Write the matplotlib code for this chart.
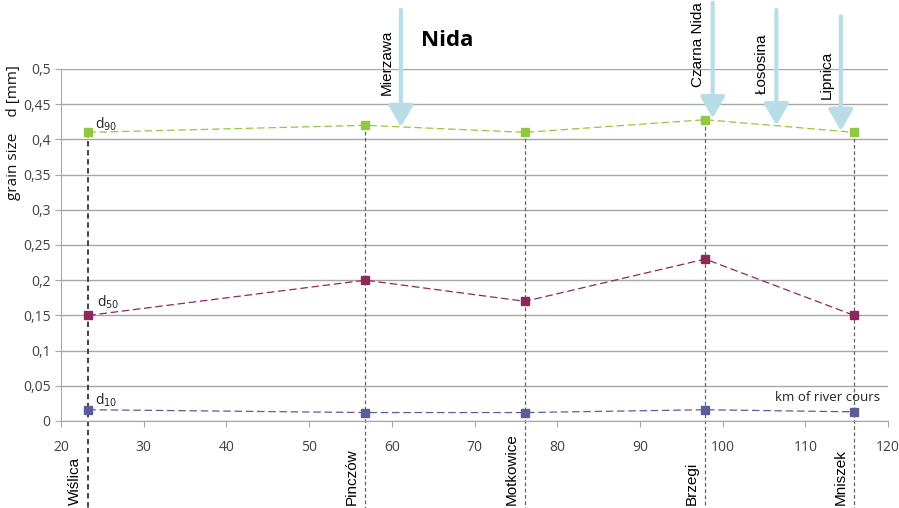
import matplotlib
matplotlib.use("Agg")
import matplotlib.pyplot as plt

# Data
stations = ["Wiślica", "Pinczów", "Motkowice", "Brzegi", "Mniszek"]
km = [23.3, 56.8, 76.1, 97.9, 115.9]
d90 = [0.41, 0.42, 0.41, 0.428, 0.41]
d50 = [0.15, 0.20, 0.17, 0.23, 0.15]
d10 = [0.016, 0.012, 0.012, 0.016, 0.013]

tributaries = ["Mierzawa", "Czarna Nida", "Łososina", "Lipnica"]
trib_km = [61.1, 98.8, 106.5, 114.3]
trib_tip = [0.4176, 0.430, 0.420, 0.412]
trib_top = [0.584, 0.594, 0.584, 0.575]

xticks = [20, 30, 40, 50, 60, 70, 80, 90, 100, 110, 120]
yticks = [0, 0.05, 0.1, 0.15, 0.2, 0.25, 0.3, 0.35, 0.4, 0.45, 0.5]

fig = plt.figure(figsize=(8.99, 5.08), dpi=100)
ax = fig.add_axes([61/899, 87/508, 827/899, 352/508])
ax.set_xlim(20, 120)
ax.set_ylim(0, 0.5)

ax.set_yticks(yticks)
ax.set_yticklabels([("%g" % v).replace(".", ",") for v in yticks], fontsize=10, color="#404040", family="Open Sans")
ax.set_xticks(xticks)
ax.set_xticklabels([str(v) for v in xticks], fontsize=10, color="#404040", family="Open Sans")
ax.yaxis.grid(True, color="#a6a6a6", lw=1)
ax.set_axisbelow(True)
for s in ["top", "right"]:
    ax.spines[s].set_visible(False)
for s in ["left", "bottom"]:
    ax.spines[s].set_color("#a6a6a6")
ax.tick_params(axis="both", colors="#a6a6a6", length=4, labelcolor="#404040")
ax.tick_params(axis="x", pad=10)

# vertical dashed lines at stations
ybot = -0.125
for i, (x, y) in enumerate(zip(km, d90)):
    col = "#333333" if i == 0 else "#666666"
    lw = 1.3 if i == 0 else 0.9
    ax.plot([x, x], [y, ybot], ls=(0, (3, 2)), color=col, lw=lw, clip_on=False, zorder=2)
    ax.text(x - 0.8, -0.119, stations[i], rotation=90, ha="right", va="bottom",
            fontsize=11, family="Liberation Sans", color="#000000")

# series
ax.plot(km, d90, ls=(0, (6, 3)), color="#92c83e", lw=0.9, marker="s", ms=6, zorder=3)
ax.plot(km, d50, ls=(0, (6, 3)), color="#8b2a5a", lw=0.9, marker="s", ms=6, zorder=3)
ax.plot(km, d10, ls=(0, (6, 3)), color="#5c5c98", lw=0.9, marker="s", ms=6, zorder=3)

ax.text(km[0] + 0.8, d90[0] + 0.006, r"d$_{90}$", fontsize=10, color="#222222", family="Open Sans")
ax.text(km[0] + 1.0, d50[0] + 0.013, r"d$_{50}$", fontsize=10, color="#222222", family="Open Sans")
ax.text(km[0] + 0.8, d10[0] + 0.008, r"d$_{10}$", fontsize=10, color="#222222", family="Open Sans")

ax.text(119.0, 0.034, "km of river cours", ha="right", va="center", fontsize=9.5,
        color="#222222", family="Open Sans")

# tributary arrows
for name, x, tip, top in zip(tributaries, trib_km, trib_tip, trib_top):
    ax.annotate("", xy=(x, tip), xytext=(x, top), xycoords="data",
                arrowprops=dict(arrowstyle="-|>,head_width=0.75,head_length=1.3",
                                color="#b9dde6", lw=3, shrinkA=0, shrinkB=0),
                annotation_clip=False, zorder=4)
    ax.text(x - 0.9, tip + 0.045, name, rotation=90, ha="right", va="bottom",
            fontsize=11, family="Liberation Sans", color="#000000", clip_on=False)

fig.text(447/899, 1 - 40/508, "Nida", ha="center", va="center", fontsize=16,
         fontweight="bold", family="Open Sans")
fig.text(14/899, 1 - 133/508, "grain size    d [mm]", rotation=90, ha="center", va="center",
         fontsize=11, family="Open Sans", color="#111111")

fig.savefig("out.png", dpi=100)
